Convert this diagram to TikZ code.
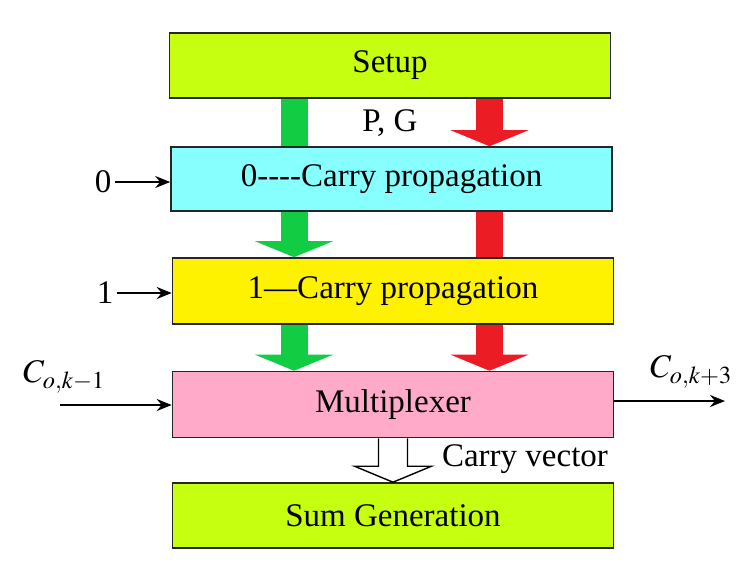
\documentclass[tikz,border=0pt]{standalone}
\usepackage{mathptmx}
\usepackage{fontspec}
\setmainfont{Liberation Serif}
\usetikzlibrary{arrows,arrows.meta}
\definecolor{limebox}{RGB}{198,255,16}
\definecolor{cyanbox}{RGB}{136,255,255}
\definecolor{yellowbox}{RGB}{255,242,0}
\definecolor{pinkbox}{RGB}{255,170,200}
\definecolor{flowgreen}{RGB}{18,204,68}
\definecolor{flowred}{RGB}{236,28,36}
\tikzstyle{block}=[draw=black!85,line width=1.6pt,minimum width=441pt,minimum height=65pt,inner sep=0pt,font=\fontsize{33}{36}\selectfont]
\tikzstyle{tag}=[font=\fontsize{33}{36}\selectfont]
\tikzstyle{sigline}=[->,line width=2.2pt]
\tikzstyle{fatline}=[-,line width=27pt]
\tikzstyle{fathead}=[-{Triangle[width=78pt,length=16pt,line width=0pt]},line width=27pt]

\begin{document}
\begin{tikzpicture}[>={Stealth[length=15pt,width=12pt,inset=5pt]},x=1pt,y=-1pt]
\useasboundingbox (0,0) rectangle (750,582);
\coordinate (gcol) at (294,0);
\coordinate (rcol) at (489.5,0);
\node [block,fill=limebox] (setup) at (390,65.5) {Setup};
\node [block,fill=cyanbox,minimum height=64pt] (cprop0) at (391.5,179) {0{-}{-}{-}{-}Carry propagation};
\node [block,fill=yellowbox,minimum height=66pt] (cprop1) at (393,291) {1---Carry propagation};
\node [block,fill=pinkbox,minimum height=66pt] (mux) at (393,404.5) {Multiplexer};
\node [block,fill=limebox] (sumgen) at (393,515.5) {Sum Generation};

\draw [fatline,flowgreen] (setup.south -| gcol) -- (cprop0.north -| gcol);
\draw [fathead,flowred] (setup.south -| rcol) -- (cprop0.north -| rcol);
\draw [fathead,flowgreen] (cprop0.south -| gcol) -- (cprop1.north -| gcol);
\draw [fatline,flowred] (cprop0.south -| rcol) -- (cprop1.north -| rcol);
\draw [fathead,flowgreen] (cprop1.south -| gcol) -- (mux.north -| gcol);
\draw [fathead,flowred] (cprop1.south -| rcol) -- (mux.north -| rcol);

\node [tag] (pg) at (390,123) {P, G};

% inputs and outputs
\node [tag] (in0) at (103,182) {0};
\node [tag] (in1) at (105,293) {1};
\draw [sigline] (in0.east) -- (in0.east -| cprop0.west);
\draw [sigline] (in1.east) -- (in1.east -| cprop1.west);

\node [tag] (cin) at (64,377) {$C_{o,k-1}$};
\coordinate (cinstart) at (60,405);
\draw [sigline] (cinstart) -- (cinstart -| mux.west);
\node [tag] (cout) at (691,372) {$C_{o,k+3}$};
\coordinate (coutend) at (725,401);
\draw [sigline] (coutend -| mux.east) -- (coutend);

% carry vector
\draw [fill=white,line width=1.4pt,line join=miter]
  ([xshift=-14.5pt]mux.south) -- ([xshift=-14.5pt,yshift=16pt]sumgen.north)
  -- ([xshift=-38.5pt,yshift=16pt]sumgen.north) -- (sumgen.north)
  -- ([xshift=38.5pt,yshift=16pt]sumgen.north) -- ([xshift=14.5pt,yshift=16pt]sumgen.north)
  -- ([xshift=14.5pt]mux.south);
\node [tag] (cvec) at (525,459) {Carry vector};
\end{tikzpicture}
\end{document}
